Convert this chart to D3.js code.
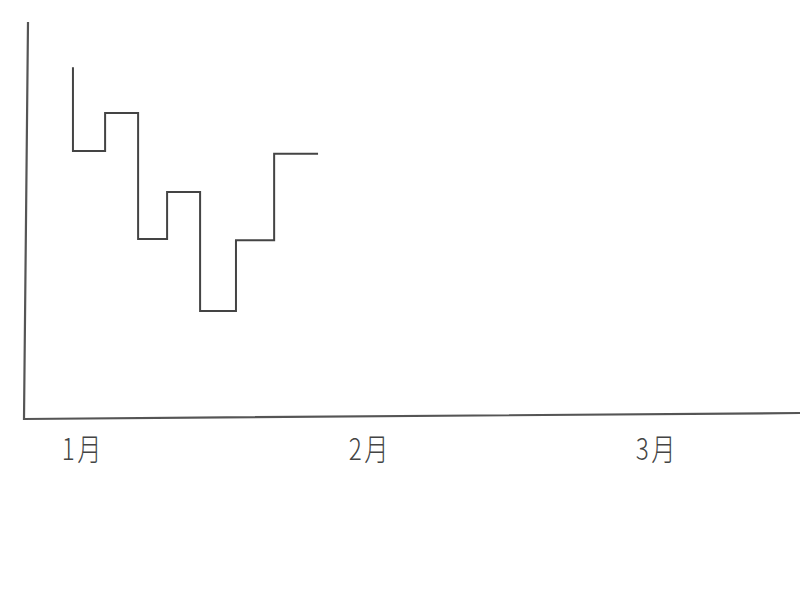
<!DOCTYPE html>
<html>
<head>
<meta charset="utf-8">
<script src="https://cdn.jsdelivr.net/npm/d3@7"></script>
<style>
  body { margin: 0; background: #fff; }
  text { font-family: "Noto Sans CJK JP", sans-serif; }
</style>
</head>
<body>
<div id="viz"></div>
<script>
// step chart, months on x

var width = 800, height = 600;

// month ticks (position in month units) and their labels
var monthPos = [0, 1, 2];
var monthLabels = ["1月", "2月", "3月"];

// step boundaries in month units, and level for each step
var stepX = [-0.035, -0.035, 0.077, 0.192, 0.293, 0.408, 0.533, 0.666, 0.819];
var stepY = [88.6, 67.4, 77.0, 45.2, 57.1, 27.0, 44.9, 66.7, 66.7];

var x = d3.scaleLinear().domain([0, 2]).range([83, 657]);
var y = d3.scaleLinear().domain([0, 100]).range([418, 22]);

var svg = d3.select("#viz")
	.append("svg")
		.attr("width", width)
		.attr("height", height);

// axes, slightly hand-drawn tilt like the original
svg.append("path")
	.attr("d", "M28," + y(100) + " L24," + (y(0) + 1) + " L800,413")
	.attr("fill", "none")
	.attr("stroke", "#555")
	.attr("stroke-width", 2.2);

svg.selectAll("text.month")
	.data(monthPos)
	.enter()
	.append("text")
		.attr("class", "month")
		.attr("transform", function (d) { return "translate(" + x(d) + ",460) scale(0.9,1.1)"; })
		.attr("text-anchor", "middle")
		.attr("fill", "#444")
		.attr("font-size", 27)
		.attr("font-weight", 300)
		.attr("letter-spacing", 3)
		.text(function (d, i) { return monthLabels[i]; });

var line = d3.line()
	.x(function (d, i) { return x(stepX[i]); })
	.y(function (d, i) { return y(stepY[i]); })
	.curve(d3.curveStepAfter);

svg.append("path")
	.datum(stepX)
	.attr("d", line)
	.attr("fill", "none")
	.attr("stroke", "#444")
	.attr("stroke-width", 2);

// The End
</script>
</body>
</html>
